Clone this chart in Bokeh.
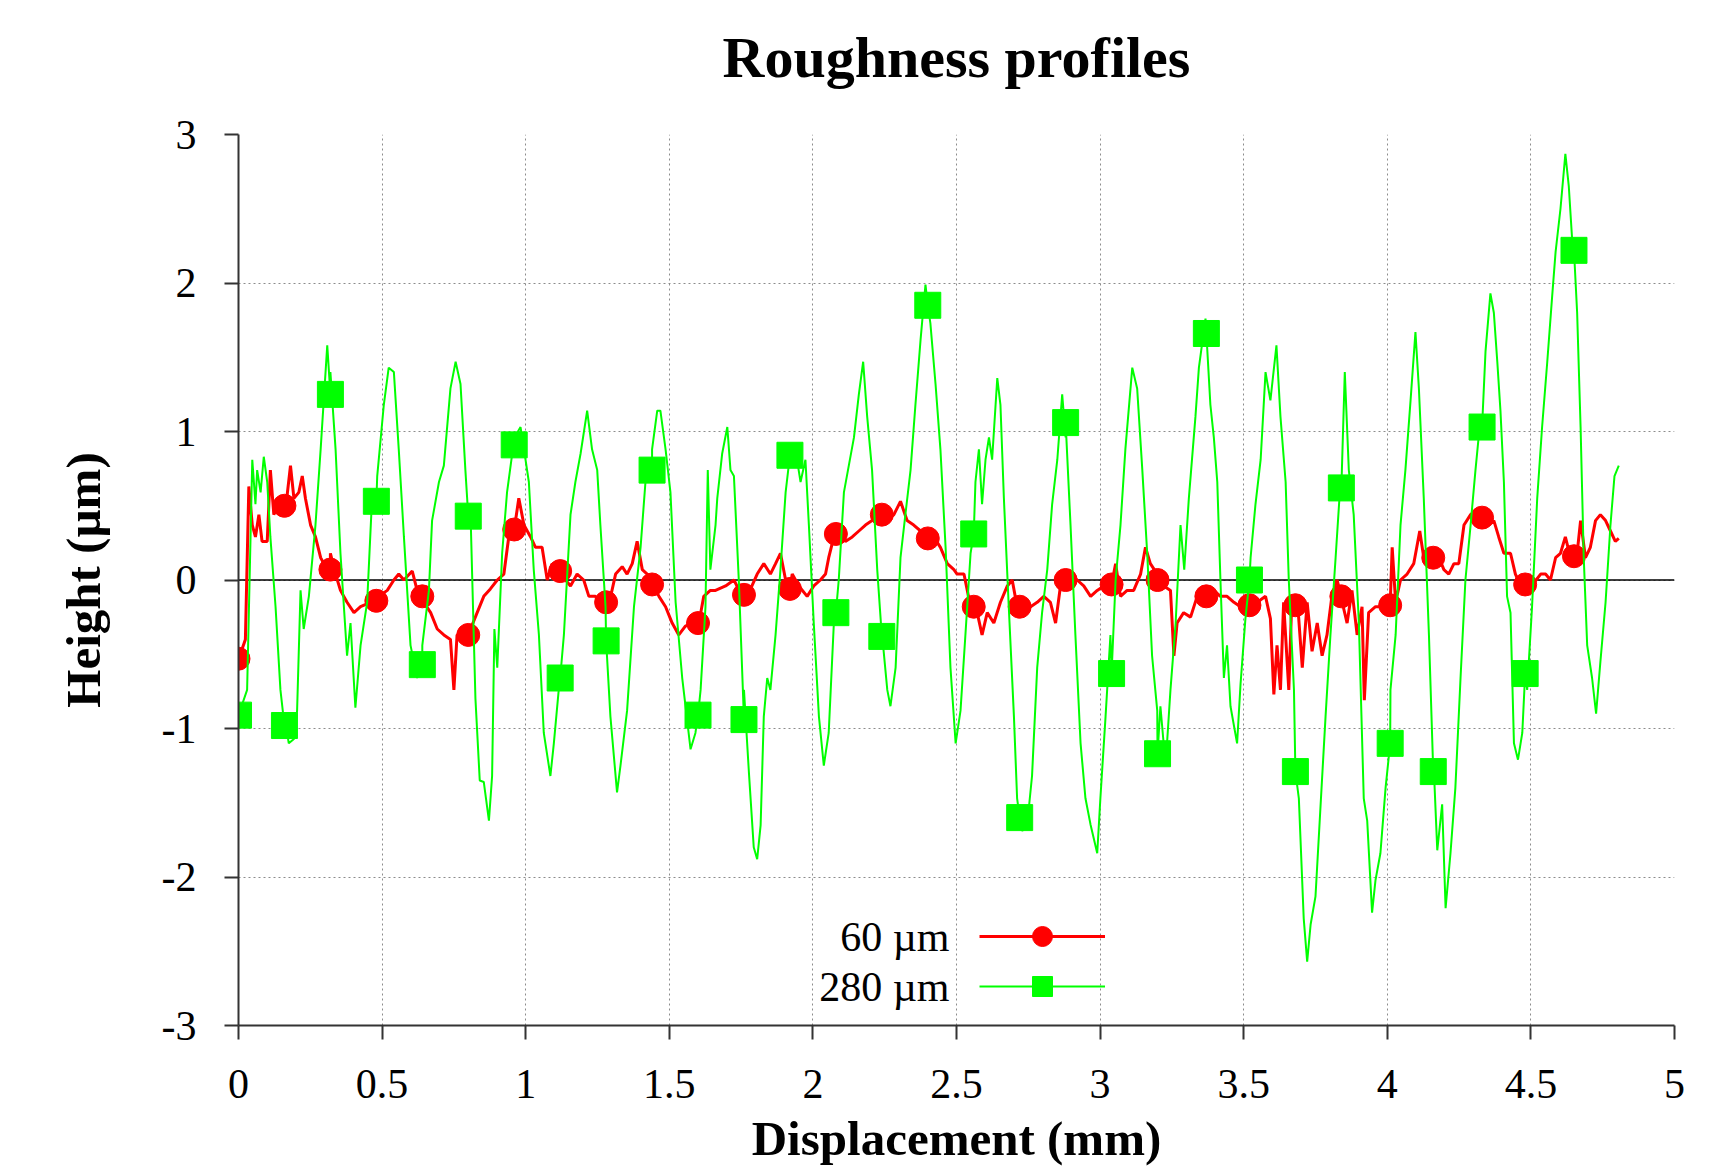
from bokeh.plotting import figure
from bokeh.models import FixedTicker, Span, Legend, LegendItem, Range1d, Label
from bokeh.embed import file_html
from bokeh.resources import INLINE

# ---------------- data ----------------
title_text = "Roughness profiles"
x_ticks = [0, 0.5, 1, 1.5, 2, 2.5, 3, 3.5, 4, 4.5, 5]
x_tick_labels = ["0", "0.5", "1", "1.5", "2", "2.5", "3", "3.5", "4", "4.5", "5"]
y_ticks = [-3, -2, -1, 0, 1, 2, 3]
y_tick_labels = ["-3", "-2", "-1", "0", "1", "2", "3"]

series_labels = ["60 µm", "280 µm"]

# sample positions where gnuplot drew the point symbols
marker_x = [0.00, 0.16, 0.32, 0.48, 0.64, 0.80, 0.96, 1.12, 1.28, 1.44,
            1.60, 1.76, 1.92, 2.08, 2.24, 2.40, 2.56, 2.72, 2.88, 3.04,
            3.20, 3.37, 3.52, 3.68, 3.84, 4.01, 4.16, 4.33, 4.48, 4.65]
red_marker_y = [-0.53, 0.50, 0.07, -0.14, -0.11, -0.37, 0.34, 0.06, -0.15, -0.03,
                -0.29, -0.10, -0.06, 0.31, 0.44, 0.28, -0.18, -0.18, 0.00, -0.03,
                0.00, -0.11, -0.17, -0.17, -0.11, -0.17, 0.15, 0.42, -0.03, 0.16]
green_marker_y = [-0.91, -0.98, 1.25, 0.53, -0.57, 0.43, 0.91, -0.66, -0.41, 0.74,
                  -0.91, -0.94, 0.84, -0.22, -0.38, 1.85, 0.31, -1.60, 1.06, -0.63,
                  -1.17, 1.66, 0.00, -1.29, 0.62, -1.10, -1.29, 1.03, -0.63, 2.22]

# 60 µm profile (traced)
red_x = [0.001, 0.024, 0.036, 0.048, 0.059, 0.071, 0.082, 0.100, 0.111, 0.123,
         0.140, 0.164, 0.181, 0.193, 0.210, 0.222, 0.233, 0.251, 0.268, 0.286,
         0.309, 0.320, 0.338, 0.355, 0.378, 0.402, 0.425, 0.460, 0.489, 0.518,
         0.541, 0.558, 0.576, 0.605, 0.622, 0.645, 0.669, 0.692, 0.715, 0.738,
         0.750, 0.761, 0.785, 0.808, 0.831, 0.854, 0.877, 0.901, 0.924, 0.941,
         0.959, 0.976, 0.994, 1.017, 1.034, 1.057, 1.075, 1.092, 1.115, 1.139,
         1.156, 1.179, 1.202, 1.220, 1.243, 1.266, 1.289, 1.313, 1.336, 1.353,
         1.371, 1.388, 1.406, 1.423, 1.440, 1.464, 1.487, 1.510, 1.533, 1.556,
         1.580, 1.603, 1.620, 1.643, 1.661, 1.696, 1.725, 1.754, 1.783, 1.806,
         1.829, 1.852, 1.870, 1.887, 1.905, 1.928, 1.951, 1.980, 2.003, 2.026,
         2.044, 2.055, 2.073, 2.090, 2.113, 2.137, 2.160, 2.183, 2.206, 2.230,
         2.259, 2.282, 2.305, 2.328, 2.351, 2.375, 2.398, 2.421, 2.444, 2.468,
         2.491, 2.502, 2.526, 2.549, 2.572, 2.589, 2.607, 2.630, 2.653, 2.677,
         2.694, 2.711, 2.735, 2.758, 2.781, 2.804, 2.827, 2.845, 2.862, 2.880,
         2.897, 2.920, 2.943, 2.967, 2.990, 3.013, 3.036, 3.054, 3.071, 3.094,
         3.117, 3.141, 3.158, 3.175, 3.199, 3.222, 3.245, 3.257, 3.268, 3.291,
         3.315, 3.338, 3.367, 3.396, 3.419, 3.442, 3.466, 3.489, 3.518, 3.547,
         3.576, 3.593, 3.605, 3.616, 3.628, 3.639, 3.657, 3.668, 3.686, 3.704,
         3.721, 3.738, 3.756, 3.773, 3.790, 3.807, 3.825, 3.843, 3.860, 3.877,
         3.895, 3.912, 3.920, 3.935, 3.959, 3.982, 4.005, 4.017, 4.029, 4.046,
         4.069, 4.092, 4.113, 4.127, 4.150, 4.174, 4.197, 4.214, 4.232, 4.249,
         4.267, 4.290, 4.313, 4.336, 4.354, 4.371, 4.388, 4.406, 4.429, 4.446,
         4.464, 4.487, 4.510, 4.534, 4.551, 4.568, 4.586, 4.603, 4.620, 4.638,
         4.661, 4.673, 4.690, 4.707, 4.725, 4.742, 4.760, 4.777, 4.794, 4.806]
red_y = [-0.53, -0.40, 0.63, 0.37, 0.29, 0.44, 0.26, 0.26, 0.74, 0.44,
         0.51, 0.48, 0.77, 0.55, 0.59, 0.70, 0.55, 0.37, 0.29, 0.15,
         0.07, 0.18, 0.04, -0.07, -0.15, -0.22, -0.18, -0.15, -0.11, -0.07,
         0.00, 0.04, 0.00, 0.06, -0.07, -0.15, -0.22, -0.33, -0.37, -0.40,
         -0.74, -0.37, -0.37, -0.33, -0.22, -0.11, -0.06, 0.00, 0.04, 0.29,
         0.33, 0.55, 0.37, 0.29, 0.22, 0.22, 0.00, 0.11, 0.07, 0.00,
         -0.04, 0.04, 0.00, -0.11, -0.11, -0.18, -0.17, 0.04, 0.09, 0.04,
         0.11, 0.26, 0.07, 0.04, -0.04, -0.11, -0.18, -0.29, -0.37, -0.31,
         -0.29, -0.29, -0.11, -0.07, -0.07, -0.04, 0.00, -0.11, -0.06, 0.04,
         0.11, 0.04, 0.11, 0.18, 0.00, 0.04, -0.04, -0.11, -0.04, 0.00,
         0.04, 0.15, 0.29, 0.33, 0.26, 0.29, 0.33, 0.37, 0.40, 0.44,
         0.40, 0.44, 0.53, 0.40, 0.37, 0.33, 0.29, 0.29, 0.22, 0.11,
         0.07, 0.04, 0.04, -0.18, -0.22, -0.37, -0.22, -0.29, -0.15, -0.04,
         0.00, -0.18, -0.18, -0.18, -0.15, -0.11, -0.15, -0.29, -0.04, 0.04,
         0.04, 0.00, -0.04, -0.11, -0.07, -0.04, 0.00, 0.11, -0.11, -0.07,
         -0.07, 0.04, 0.22, 0.11, 0.04, -0.04, -0.07, -0.51, -0.29, -0.22,
         -0.25, -0.11, -0.04, -0.07, -0.11, -0.11, -0.15, -0.18, -0.18, -0.15,
         -0.11, -0.26, -0.77, -0.44, -0.74, -0.15, -0.74, -0.11, -0.11, -0.59,
         -0.15, -0.48, -0.29, -0.51, -0.37, -0.11, 0.00, -0.15, -0.29, -0.07,
         -0.37, -0.18, -0.81, -0.22, -0.18, -0.18, -0.18, 0.22, -0.15, 0.00,
         0.04, 0.11, 0.33, 0.15, 0.15, 0.18, 0.07, 0.04, 0.11, 0.11,
         0.37, 0.44, 0.48, 0.44, 0.37, 0.40, 0.29, 0.18, 0.18, 0.04,
         -0.04, -0.06, -0.02, 0.04, 0.04, 0.00, 0.15, 0.18, 0.29, 0.15,
         0.18, 0.40, 0.15, 0.22, 0.40, 0.44, 0.40, 0.33, 0.26, 0.28]

# 280 µm profile (traced)
green_x = [0.030, 0.048, 0.059, 0.065, 0.077, 0.088, 0.100, 0.111, 0.129, 0.146,
           0.164, 0.175, 0.193, 0.204, 0.216, 0.227, 0.245, 0.268, 0.286, 0.309,
           0.320, 0.338, 0.355, 0.378, 0.390, 0.407, 0.425, 0.448, 0.465, 0.483,
           0.506, 0.523, 0.541, 0.558, 0.576, 0.599, 0.622, 0.640, 0.663, 0.674,
           0.698, 0.715, 0.738, 0.756, 0.773, 0.790, 0.808, 0.825, 0.840, 0.854,
           0.872, 0.883, 0.891, 0.901, 0.918, 0.935, 0.953, 0.970, 0.982, 0.994,
           1.011, 1.028, 1.046, 1.063, 1.086, 1.098, 1.115, 1.133, 1.156, 1.173,
           1.191, 1.214, 1.231, 1.249, 1.260, 1.278, 1.295, 1.318, 1.330, 1.353,
           1.377, 1.400, 1.417, 1.440, 1.458, 1.469, 1.487, 1.504, 1.522, 1.545,
           1.574, 1.591, 1.609, 1.626, 1.634, 1.643, 1.661, 1.667, 1.684, 1.702,
           1.713, 1.725, 1.742, 1.760, 1.777, 1.794, 1.806, 1.818, 1.829, 1.841,
           1.852, 1.870, 1.887, 1.905, 1.922, 1.939, 1.957, 1.974, 1.986, 2.003,
           2.021, 2.038, 2.055, 2.073, 2.090, 2.108, 2.125, 2.143, 2.160, 2.175,
           2.189, 2.206, 2.224, 2.241, 2.259, 2.270, 2.288, 2.305, 2.322, 2.340,
           2.357, 2.375, 2.392, 2.409, 2.427, 2.444, 2.462, 2.479, 2.497, 2.514,
           2.531, 2.549, 2.566, 2.578, 2.589, 2.601, 2.613, 2.624, 2.642, 2.653,
           2.665, 2.682, 2.700, 2.711, 2.729, 2.746, 2.763, 2.781, 2.798, 2.816,
           2.833, 2.851, 2.868, 2.880, 2.897, 2.914, 2.932, 2.949, 2.967, 2.990,
           3.001, 3.019, 3.036, 3.054, 3.071, 3.088, 3.112, 3.129, 3.147, 3.164,
           3.181, 3.199, 3.210, 3.228, 3.245, 3.263, 3.280, 3.293, 3.309, 3.332,
           3.344, 3.367, 3.384, 3.396, 3.408, 3.419, 3.431, 3.442, 3.454, 3.477,
           3.489, 3.506, 3.524, 3.541, 3.559, 3.576, 3.593, 3.614, 3.628, 3.646,
           3.657, 3.675, 3.692, 3.709, 3.721, 3.733, 3.750, 3.767, 3.785, 3.802,
           3.820, 3.837, 3.852, 3.866, 3.883, 3.901, 3.918, 3.930, 3.947, 3.959,
           3.976, 3.994, 4.011, 4.029, 4.046, 4.063, 4.081, 4.098, 4.110, 4.127,
           4.145, 4.162, 4.174, 4.191, 4.203, 4.220, 4.237, 4.255, 4.272, 4.290,
           4.307, 4.325, 4.342, 4.359, 4.371, 4.383, 4.394, 4.406, 4.417, 4.429,
           4.441, 4.455, 4.470, 4.487, 4.504, 4.522, 4.539, 4.557, 4.574, 4.586,
           4.603, 4.620, 4.632, 4.644, 4.661, 4.673, 4.684, 4.696, 4.713, 4.727,
           4.742, 4.760, 4.777, 4.791, 4.806]
green_y = [-0.74, 0.81, 0.51, 0.74, 0.59, 0.83, 0.66, 0.29, -0.18, -0.74,
           -0.96, -1.10, -1.07, -0.88, -0.07, -0.33, -0.11, 0.37, 0.88, 1.58,
           1.40, 0.88, 0.18, -0.51, -0.29, -0.86, -0.44, -0.15, 0.55, 0.70,
           1.18, 1.43, 1.40, 0.88, 0.29, -0.44, -0.66, -0.44, -0.07, 0.40,
           0.66, 0.77, 1.29, 1.47, 1.32, 0.74, 0.44, -0.80, -1.35, -1.36,
           -1.62, -1.32, -0.33, -0.59, 0.18, 0.59, 0.85, 0.99, 1.03, 0.88,
           0.66, 0.07, -0.37, -1.03, -1.32, -1.10, -0.74, -0.37, 0.44, 0.66,
           0.85, 1.14, 0.88, 0.74, 0.37, -0.18, -0.92, -1.43, -1.25, -0.88,
           -0.18, 0.22, 0.66, 0.88, 1.14, 1.14, 0.88, 0.59, -0.15, -0.66,
           -1.14, -1.03, -0.74, -0.18, 0.74, 0.07, 0.37, 0.55, 0.85, 1.03,
           0.74, 0.70, 0.00, -0.74, -1.29, -1.80, -1.88, -1.65, -0.92, -0.66,
           -0.74, -0.37, 0.07, 0.59, 0.81, 0.88, 0.66, 0.81, 0.37, -0.29,
           -0.92, -1.25, -1.03, -0.29, 0.00, 0.59, 0.77, 0.96, 1.25, 1.47,
           1.10, 0.74, 0.07, -0.37, -0.74, -0.85, -0.59, 0.15, 0.44, 0.74,
           1.18, 1.62, 1.99, 1.73, 1.32, 0.88, 0.22, -0.59, -1.10, -0.88,
           -0.37, 0.18, 0.66, 0.88, 0.51, 0.81, 0.96, 0.81, 1.36, 1.18,
           0.55, -0.18, -0.92, -1.47, -1.69, -1.65, -1.32, -0.59, -0.22, 0.07,
           0.51, 0.81, 1.25, 0.96, 0.37, -0.37, -1.10, -1.47, -1.65, -1.84,
           -1.47, -0.92, -0.37, 0.00, 0.37, 0.88, 1.43, 1.29, 0.74, 0.18,
           -0.51, -0.88, -0.85, -1.25, -0.74, -0.29, 0.37, 0.07, 0.55, 1.10,
           1.43, 1.76, 1.18, 0.96, 0.66, 0.00, -0.66, -0.44, -0.85, -1.10,
           -0.70, -0.26, 0.15, 0.51, 0.81, 1.40, 1.21, 1.58, 1.10, 0.66,
           0.00, -0.74, -1.47, -2.28, -2.57, -2.32, -2.13, -1.54, -0.92, -0.37,
           0.15, 0.66, 1.40, 0.74, 0.44, -0.29, -1.47, -1.62, -2.24, -2.02,
           -1.84, -1.40, -0.74, -0.37, 0.37, 0.74, 1.21, 1.67, 1.29, 0.55,
           -0.37, -1.27, -1.82, -1.51, -2.21, -1.84, -1.40, -0.66, 0.00, 0.37,
           0.74, 1.10, 1.54, 1.93, 1.80, 1.47, 1.14, 0.66, -0.11, -0.22,
           -1.10, -1.21, -1.03, -0.74, -0.18, 0.55, 1.03, 1.47, 1.91, 2.21,
           2.50, 2.87, 2.65, 2.28, 1.80, 1.03, 0.15, -0.44, -0.66, -0.90,
           -0.55, -0.15, 0.37, 0.70, 0.77]


def with_markers(xs, ys, mx, my):
    """Line vertices = traced vertices plus the marked samples, ordered by x."""
    pts = sorted(list(zip(xs, ys)) + list(zip(mx, my)))
    return [a for a, _ in pts], [b for _, b in pts]


red_lx, red_ly = with_markers(red_x, red_y, marker_x, red_marker_y)
green_lx, green_ly = with_markers(green_x, green_y, marker_x, green_marker_y)

# ---------------- styling ----------------
SERIF = "Liberation Serif"
RED = "#ff0000"
GREEN = "#00ff00"
FRAME_W, FRAME_H = 1436, 891
BORDER_L, BORDER_R, BORDER_T, BORDER_B = 238, 42, 134, 143

p = figure(width=BORDER_L + FRAME_W + BORDER_R, height=BORDER_T + FRAME_H + BORDER_B,
           x_range=Range1d(0, 5), y_range=Range1d(-3, 3),
           output_backend="svg", toolbar_location=None,
           min_border_left=BORDER_L, min_border_right=BORDER_R,
           min_border_top=BORDER_T, min_border_bottom=BORDER_B)
p.background_fill_color = "white"
p.border_fill_color = "white"
p.outline_line_color = None

# title, drawn in the space above the frame (screen px up from the frame top)
p.add_layout(Label(x=FRAME_W / 2, y=77, x_units="screen", y_units="screen",
                   text=title_text, text_align="center", text_baseline="middle",
                   text_font=SERIF, text_font_size="58px", text_font_style="bold",
                   text_color="black"), "above")

# grid
p.grid.grid_line_color = "#8c8c8c"
p.grid.grid_line_width = 1
p.grid.grid_line_dash = "2 3"
p.xgrid.ticker = FixedTicker(ticks=x_ticks)
p.ygrid.ticker = FixedTicker(ticks=y_ticks)

# axes
for ax in (p.xaxis[0], p.yaxis[0]):
    ax.axis_line_color = "#333333"
    ax.axis_line_width = 2
    ax.major_tick_line_color = "#333333"
    ax.major_tick_line_width = 2
    ax.major_tick_in = 0
    ax.major_tick_out = 14
    ax.minor_tick_line_color = None
    ax.major_label_text_font = SERIF
    ax.major_label_text_font_size = "42px"
    ax.major_label_text_color = "black"
    ax.axis_label_text_font = SERIF
    ax.axis_label_text_font_size = "49px"
    ax.axis_label_text_font_style = "bold"
    ax.axis_label_text_color = "black"

p.xaxis.ticker = FixedTicker(ticks=x_ticks)
p.xaxis.major_label_overrides = dict(zip(x_ticks, x_tick_labels))
p.xaxis.axis_label = "Displacement (mm)"
p.xaxis.major_label_standoff = 30
p.xaxis.axis_label_standoff = 10

p.yaxis.ticker = FixedTicker(ticks=y_ticks)
p.yaxis.major_label_overrides = dict(zip(y_ticks, y_tick_labels))
p.yaxis.axis_label = "Height (µm)"
p.yaxis.major_label_standoff = 28
p.yaxis.axis_label_standoff = 48

# zero line
p.add_layout(Span(location=0, dimension="width", line_color="black",
                  line_width=1.5, level="underlay"))

# series
r_line = p.line(red_lx, red_ly, line_color=RED, line_width=3)
r_pts = p.scatter(marker_x, red_marker_y, marker="circle", size=23,
                  fill_color=RED, line_color=RED)
g_line = p.line(green_lx, green_ly, line_color=GREEN, line_width=2)
g_pts = p.scatter(marker_x, green_marker_y, marker="square", size=26,
                  fill_color=GREEN, line_color=GREEN)

# key: gnuplot style, text on the left of the sample (screen px from frame bottom-left)
KEY_X, KEY_Y = 741, 14
GLYPH_W, GLYPH_H = 126, 50
legend = Legend(items=[LegendItem(label="", renderers=[r_line, r_pts]),
                       LegendItem(label="", renderers=[g_line, g_pts])],
                location=(KEY_X, KEY_Y), orientation="vertical",
                glyph_width=GLYPH_W, glyph_height=GLYPH_H,
                label_standoff=0, label_width=0,
                padding=0, margin=0, spacing=0,
                background_fill_alpha=0, border_line_alpha=0)
p.add_layout(legend)

for i, lab in enumerate(series_labels):
    p.add_layout(Label(x=KEY_X - 30,
                       y=KEY_Y + GLYPH_H / 2 + (len(series_labels) - 1 - i) * GLYPH_H,
                       x_units="screen", y_units="screen", text=lab,
                       text_align="right", text_baseline="middle",
                       text_font=SERIF, text_font_size="42px", text_color="black"))

open("out.html", "w").write(file_html(p, INLINE))
